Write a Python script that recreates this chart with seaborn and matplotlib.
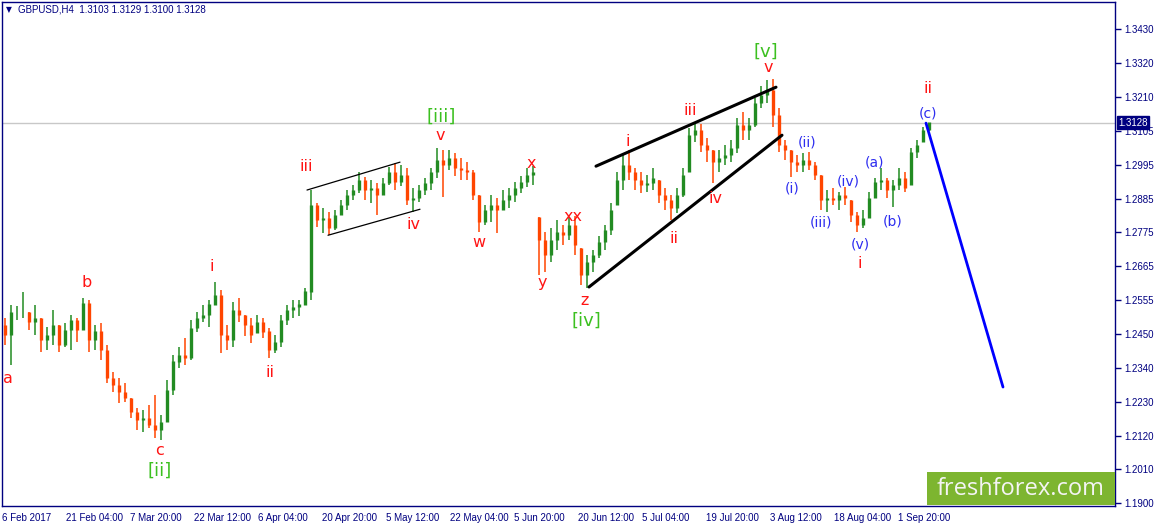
import numpy as np
import matplotlib
matplotlib.use("Agg")
import matplotlib.pyplot as plt
import matplotlib.transforms as mtransforms
from matplotlib.patches import Rectangle
import seaborn as sns

sns.set_style("white")
plt.rcParams['font.family'] = ['Liberation Sans', 'DejaVu Sans']

bar_step = 6
first_open = 1.2475
highs = [
    1.2497, 1.2540, 1.2537, 1.2582, 1.2517, 1.2540, 1.2497, 1.2469, 1.2523, 1.2475,
    1.2481, 1.2507, 1.2497, 1.2562, 1.2556, 1.2475, 1.2481, 1.2410, 1.2324, 1.2303,
    1.2287, 1.2239, 1.2206, 1.2200, 1.2216, 1.2249, 1.2184, 1.2297, 1.2378, 1.2403,
    1.2433, 1.2491, 1.2517, 1.2540, 1.2556, 1.2614, 1.2588, 1.2475, 1.2549, 1.2562,
    1.2507, 1.2497, 1.2507, 1.2497, 1.2465, 1.2443, 1.2507, 1.2540, 1.2556, 1.2556,
    1.2594, 1.2911, 1.2869, 1.2853, 1.2840, 1.2846, 1.2878, 1.2911, 1.2927, 1.2969,
    1.2953, 1.2943, 1.2933, 1.2949, 1.2985, 1.2998, 1.2991, 1.2982, 1.2917, 1.2927,
    1.2949, 1.2982, 1.3046, 1.3040, 1.3040, 1.3030, 1.3014, 1.3001, 1.2975, 1.2895,
    1.2862, 1.2895, 1.2885, 1.2911, 1.2917, 1.2937, 1.2956, 1.2982, 1.2988, 1.2824,
    1.2775, 1.2788, 1.2814, 1.2798, 1.2824, 1.2827, 1.2723, 1.2701, 1.2717, 1.2762,
    1.2798, 1.2869, 1.2969, 1.3024, 1.3040, 1.2982, 1.2969, 1.2959, 1.2982, 1.2943,
    1.2917, 1.2895, 1.2917, 1.2982, 1.3111, 1.3130, 1.3124, 1.3079, 1.3040, 1.3040,
    1.3056, 1.3072, 1.3143, 1.3162, 1.3143, 1.3208, 1.3246, 1.3266, 1.3269, 1.3175,
    1.3072, 1.3040, 1.3024, 1.3030, 1.3033, 1.3001, 1.2959, 1.2911, 1.2917, 1.2904,
    1.2920, 1.2878, 1.2840, 1.2846, 1.2904, 1.2949, 1.2982, 1.2949, 1.2943, 1.2982,
    1.2969, 1.3046, 1.3072, 1.3114, 1.3129]
lows = [
    1.2410, 1.2346, 1.2491, 1.2497, 1.2459, 1.2443, 1.2388, 1.2394, 1.2410, 1.2388,
    1.2403, 1.2394, 1.2420, 1.2459, 1.2388, 1.2394, 1.2362, 1.2287, 1.2259, 1.2223,
    1.2226, 1.2174, 1.2136, 1.2130, 1.2142, 1.2110, 1.2104, 1.2162, 1.2249, 1.2336,
    1.2346, 1.2362, 1.2453, 1.2485, 1.2469, 1.2540, 1.2384, 1.2394, 1.2403, 1.2485,
    1.2439, 1.2417, 1.2449, 1.2433, 1.2368, 1.2384, 1.2403, 1.2475, 1.2497, 1.2504,
    1.2540, 1.2556, 1.2791, 1.2772, 1.2765, 1.2782, 1.2830, 1.2846, 1.2878, 1.2901,
    1.2878, 1.2869, 1.2830, 1.2895, 1.2927, 1.2911, 1.2924, 1.2862, 1.2840, 1.2872,
    1.2895, 1.2911, 1.2949, 1.2888, 1.2975, 1.2956, 1.2943, 1.2943, 1.2878, 1.2775,
    1.2798, 1.2807, 1.2772, 1.2846, 1.2853, 1.2872, 1.2901, 1.2920, 1.2927, 1.2636,
    1.2646, 1.2678, 1.2717, 1.2733, 1.2749, 1.2701, 1.2604, 1.2594, 1.2646, 1.2691,
    1.2717, 1.2765, 1.2862, 1.2911, 1.2943, 1.2911, 1.2901, 1.2904, 1.2911, 1.2869,
    1.2846, 1.2814, 1.2836, 1.2888, 1.2969, 1.3066, 1.3033, 1.3001, 1.2933, 1.2969,
    1.2991, 1.3001, 1.3030, 1.3072, 1.3072, 1.3114, 1.3175, 1.3191, 1.3114, 1.3033,
    1.3008, 1.2953, 1.2969, 1.2969, 1.2975, 1.2943, 1.2846, 1.2840, 1.2862, 1.2846,
    1.2862, 1.2807, 1.2775, 1.2788, 1.2820, 1.2885, 1.2911, 1.2885, 1.2856, 1.2911,
    1.2904, 1.2927, 1.3014, 1.3066, 1.3100]
closes = [
    1.2443, 1.2517, 1.2517, 1.2517, 1.2485, 1.2497, 1.2426, 1.2443, 1.2475, 1.2410,
    1.2459, 1.2491, 1.2459, 1.2546, 1.2426, 1.2453, 1.2394, 1.2303, 1.2281, 1.2259,
    1.2239, 1.2194, 1.2168, 1.2174, 1.2152, 1.2136, 1.2162, 1.2265, 1.2356, 1.2378,
    1.2368, 1.2465, 1.2497, 1.2507, 1.2540, 1.2572, 1.2443, 1.2426, 1.2523, 1.2507,
    1.2475, 1.2443, 1.2485, 1.2453, 1.2394, 1.2420, 1.2491, 1.2523, 1.2533, 1.2540,
    1.2582, 1.2862, 1.2814, 1.2820, 1.2788, 1.2830, 1.2862, 1.2895, 1.2911, 1.2943,
    1.2911, 1.2917, 1.2895, 1.2933, 1.2969, 1.2937, 1.2959, 1.2878, 1.2885, 1.2911,
    1.2933, 1.2969, 1.3008, 1.2991, 1.3014, 1.2982, 1.2975, 1.2969, 1.2895, 1.2807,
    1.2846, 1.2862, 1.2846, 1.2878, 1.2895, 1.2917, 1.2937, 1.2959, 1.2969, 1.2749,
    1.2701, 1.2749, 1.2775, 1.2765, 1.2798, 1.2733, 1.2636, 1.2678, 1.2701, 1.2743,
    1.2782, 1.2846, 1.2943, 1.2991, 1.2969, 1.2943, 1.2927, 1.2933, 1.2949, 1.2895,
    1.2878, 1.2853, 1.2895, 1.2959, 1.3088, 1.3104, 1.3056, 1.3040, 1.3001, 1.3014,
    1.3024, 1.3046, 1.3120, 1.3104, 1.3120, 1.3191, 1.3217, 1.3233, 1.3153, 1.3056,
    1.3040, 1.3001, 1.2991, 1.3008, 1.2991, 1.2959, 1.2878, 1.2885, 1.2878, 1.2895,
    1.2885, 1.2830, 1.2798, 1.2820, 1.2885, 1.2937, 1.2943, 1.2911, 1.2927, 1.2949,
    1.2917, 1.3033, 1.3056, 1.3104, 1.3128]
last_price = 1.3128

# axis labels
ytick_labels = ["1.1900", "1.2010", "1.2120", "1.2230", "1.2340", "1.2450", "1.2555",
                "1.2665", "1.2775", "1.2885", "1.2995", "1.3105", "1.3210", "1.3320", "1.3430"]
xtick_bars = [0, 64, 128, 192, 256, 320, 384, 448, 512, 576, 640, 704, 768, 832, 896]
xtick_labels = ["6 Feb 2017", "21 Feb 04:00", "7 Mar 20:00", "22 Mar 12:00", "6 Apr 04:00",
                "20 Apr 20:00", "5 May 12:00", "22 May 04:00", "5 Jun 20:00", "20 Jun 12:00",
                "5 Jul 04:00", "19 Jul 20:00", "3 Aug 12:00", "18 Aug 04:00", "1 Sep 20:00"]

# Elliott wave labels: text, bar, price, kind
wave_text = ["a", "b", "c", "[ii]", "i", "ii", "iii", "iv", "v", "[iii]", "w", "x", "y",
             "xx", "z", "[iv]", "i", "ii", "iii", "iv", "v", "[v]", "(i)", "(ii)", "(iii)",
             "(iv)", "(v)", "i", "(a)", "(b)", "(c)", "ii"]
wave_bar = [6, 85, 157, 158, 210, 268, 304, 411, 438, 439, 477, 529, 540,
            571, 583, 584, 626, 672, 688, 714, 766, 764, 790, 805, 819,
            846, 858, 858, 873, 891, 926, 926]
wave_price = [1.2303, 1.2611, 1.2071, 1.2006, 1.2665, 1.2323, 1.2988, 1.2801, 1.3088, 1.3147,
              1.2743, 1.2998, 1.2611, 1.2827, 1.2556, 1.2488, 1.3069, 1.2756, 1.3169, 1.2885,
              1.3305, 1.3356, 1.2917, 1.3066, 1.2807, 1.2937, 1.2736, 1.2675, 1.3001, 1.2811,
              1.3159, 1.3240]
wave_kind = ["r", "r", "r", "g", "r", "r", "r", "r", "r", "g", "r", "r", "r",
             "r", "r", "g", "r", "r", "r", "r", "r", "g", "b", "b", "b",
             "b", "b", "r", "b", "b", "b", "r"]

# trend lines: (bar0, price0, bar1, price1)
channel_top = [305, 1.2911, 398, 1.3001]
channel_bottom = [326, 1.2765, 418, 1.2849]
wedge_top = [594, 1.2988, 774, 1.3243]
wedge_bottom = [587, 1.2598, 780, 1.3088]
forecast = [924, 1.3127, 1001, 1.2275]

navy = "#000080"
up_col = "#228b22"
down_col = "#ff4500"

highs = np.array(highs)
lows = np.array(lows)
closes = np.array(closes)
x = np.arange(len(closes)) * bar_step + 3
opens = np.clip(np.r_[first_open, closes[:-1]], lows, highs)
cols = np.where(closes >= opens, up_col, down_col)

fig = plt.figure(figsize=(11.55, 5.27), dpi=100)
ax = fig.add_axes([2 / 1155, 21 / 527, 1113 / 1155, 504 / 527])
ax.set_xlim(0, 1113)
ax.set_ylim(1.1891, 1.3518)

ax.axhline(last_price, color="#c8c8c8", lw=1, zorder=0)

ax.vlines(x, lows, highs, colors=cols, lw=1.1, zorder=2)
body_lo = np.minimum(opens, closes)
body_hi = np.maximum(opens, closes) + 0.00015
ax.vlines(x, body_lo, body_hi, colors=cols, lw=2.4, zorder=2)

for seg, lw, col in [(channel_top, 0.9, "black"), (channel_bottom, 0.9, "black"),
                     (wedge_top, 2.2, "black"), (wedge_bottom, 2.2, "black"),
                     (forecast, 2.0, "#0000ff")]:
    sns.lineplot(x=[seg[0], seg[2]], y=[seg[1], seg[3]], ax=ax, color=col, lw=lw, zorder=3)

kind_style = {"r": ("#ff1414", 11.5), "g": ("#3cc020", 13), "b": ("#2d2df0", 10)}
for t, b, p, k in zip(wave_text, wave_bar, wave_price, wave_kind):
    c, fs = kind_style[k]
    ax.text(b, p, t, color=c, fontsize=fs, ha="center", va="center", zorder=4,
            family=["DejaVu Sans"])

# axes styling
for s in ax.spines.values():
    s.set_color(navy)
    s.set_linewidth(1)
ax.yaxis.tick_right()
ax.set_yticks(np.linspace(1.19, 1.343, len(ytick_labels)))
ax.set_yticklabels(ytick_labels)
ax.set_xticks(xtick_bars)
ax.set_xticklabels(xtick_labels, ha="left")
ax.tick_params(axis="both", direction="out", length=4, color=navy, labelcolor=navy,
               labelsize=7, width=1)
ax.tick_params(axis="y", pad=3)
ax.tick_params(axis="x", pad=1)
ax.set_xlabel("")
ax.set_ylabel("")
ax.grid(False)

# current price box
trans = mtransforms.blended_transform_factory(ax.transAxes, ax.transData)
ax.text(1.003, last_price, "1.3128", transform=trans, ha="left", va="center",
        color="white", fontsize=7, zorder=6, clip_on=False,
        bbox=dict(boxstyle="square,pad=0.15", fc=navy, ec=navy))

# header
fig.text(6 / 1155, 1 - 10 / 527, "\u25bc", fontsize=5.5, color=navy, va="center",
         family=["DejaVu Sans"])
fig.text(18 / 1155, 1 - 10 / 527, "GBPUSD,H4  1.3103 1.3129 1.3100 1.3128",
         fontsize=7, color=navy, va="center")

# watermark
ax.add_patch(Rectangle(((927 - 2) / 1113, 1 / 504), (1115 - 927) / 1113, 33 / 504,
                       transform=ax.transAxes, fc="#7db530", ec="none", zorder=5))
ax.text((1021 - 2) / 1113, 17 / 504, "freshforex.com", transform=ax.transAxes,
        ha="center", va="center", color="#f4f4f4", fontsize=17, zorder=6,
        family=["Open Sans", "DejaVu Sans"])

fig.savefig("out.png", dpi=100)
